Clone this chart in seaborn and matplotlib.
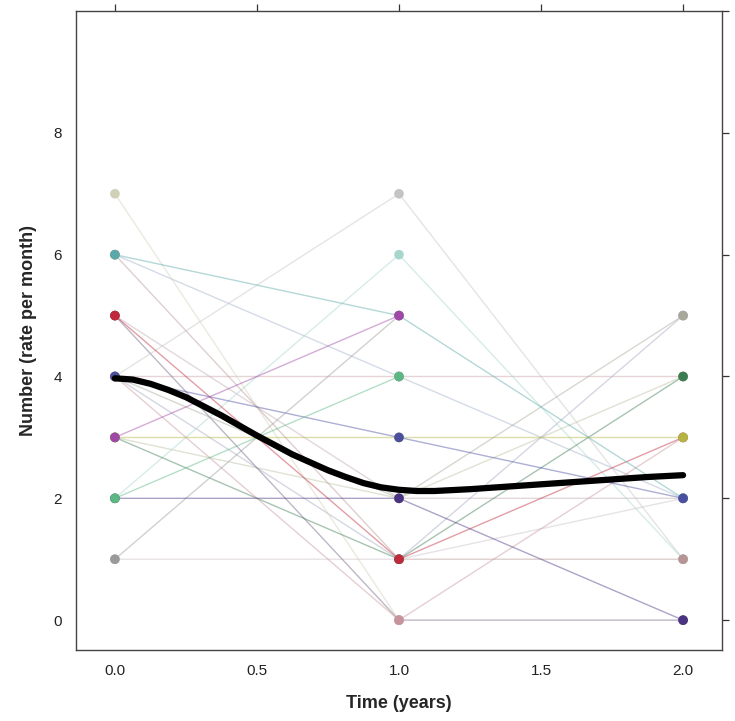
import numpy as np
import pandas as pd
import matplotlib
matplotlib.use("Agg")
import matplotlib.pyplot as plt
import seaborn as sns

# Subject trajectories: value at year 0, 1 and 2 (drawing order)
subjects = ["F", "G", "K", "M", "Q", "S", "U", "T", "A", "B", "O",
            "R", "P", "V", "J", "L", "C", "I", "E", "D", "N", "H"]
year0 = [6, 4, 5, 3, 4, 1, 5, 7, 4, 2, 6, 3, 5, 4, 3, 4, 6, 4, 1, 3, 2, 2]
year1 = [4, 4, 2, 2, 1, 1, 0, 0, 7, 6, 1, 1, 1, 0, 3, 2, 5, 3, 5, 5, 2, 4]
year2 = [2, 4, 2, 4, 5, 2, 0, np.nan, 1, 1, 1, 4, 3, 3, 3, 5, 2, 2,
         np.nan, np.nan, 0, np.nan]
times = [0.0, 1.0, 2.0]

# Smoothed mean trajectory
mean_time = [0.0, 0.0625, 0.125, 0.1875, 0.25, 0.375, 0.5, 0.625, 0.75,
             0.8125, 0.875, 0.9375, 1.0, 1.0625, 1.125, 1.25, 1.375,
             1.5, 1.625, 1.75, 1.875, 2.0]
mean_value = [3.97, 3.95, 3.88, 3.78, 3.66, 3.36, 3.03, 2.72, 2.46,
              2.35, 2.25, 2.18, 2.14, 2.12, 2.12, 2.15, 2.19,
              2.23, 2.27, 2.31, 2.35, 2.38]

# Subject colours
colors = {
    "F": "#9fb0c8", "G": "#c8a0a8", "K": "#c0a8b0", "M": "#b8c0a0",
    "Q": "#a0a8c0", "S": "#c8c0c8", "U": "#706080", "T": "#d0d0b6",
    "A": "#c4c4c4", "B": "#a6d6cc", "O": "#b89494", "R": "#3c7c52",
    "P": "#c0283c", "V": "#c8949c", "J": "#b4b440", "L": "#a8a89a",
    "C": "#5aa8a8", "I": "#4a4fa0", "E": "#9a9a9a", "D": "#a048a8",
    "N": "#4a3482", "H": "#5cb882",
}

rows = []
for i, s in enumerate(subjects):
    for t, v in zip(times, [year0[i], year1[i], year2[i]]):
        rows.append({"subject": s, "time": t, "value": v})
df = pd.DataFrame(rows).dropna()

sns.set_style("white")
plt.rcParams["font.family"] = ["Liberation Sans Narrow", "Liberation Sans", "DejaVu Sans"]

fig = plt.figure(figsize=(7.35, 7.21), dpi=100)
ax = fig.add_axes([0.1034, 0.0985, 0.8789, 0.8862])

# individual trajectories
sns.lineplot(data=df, x="time", y="value", hue="subject", hue_order=subjects,
             palette=colors, units="subject", estimator=None, legend=False,
             lw=1, alpha=0.45, ax=ax)
sns.scatterplot(data=df, x="time", y="value", hue="subject", hue_order=subjects,
                palette=colors, s=48, edgecolor="none", legend=False,
                zorder=3, ax=ax)
# mean curve
sns.lineplot(x=mean_time, y=mean_value, color="black", lw=4.5,
             solid_capstyle="round", zorder=4, ax=ax)

ax.set_xlim(-0.137, 2.137)
ax.set_ylim(-0.49, 10.0)
ax.set_xticks([0.0, 0.5, 1.0, 1.5, 2.0])
ax.set_xticklabels(["0.0", "0.5", "1.0", "1.5", "2.0"])
ax.set_yticks([0, 2, 4, 6, 8, 10])
ax.set_yticklabels(["0", "2", "4", "6", "8", ""])
ax.tick_params(direction="out", length=5, width=0.9, color="#333333",
               labelsize=11, top=True, right=True, labeltop=False,
               labelright=False, pad=5, labelcolor="#222222")
for sp in ax.spines.values():
    sp.set_color("#444444")
    sp.set_linewidth(1.0)

ax.set_xlabel("Time (years)", fontsize=13, fontweight="bold", labelpad=12)
ax.set_ylabel("Number (rate per month)", fontsize=13, fontweight="bold", labelpad=12)

fig.savefig("out.png", dpi=100)
